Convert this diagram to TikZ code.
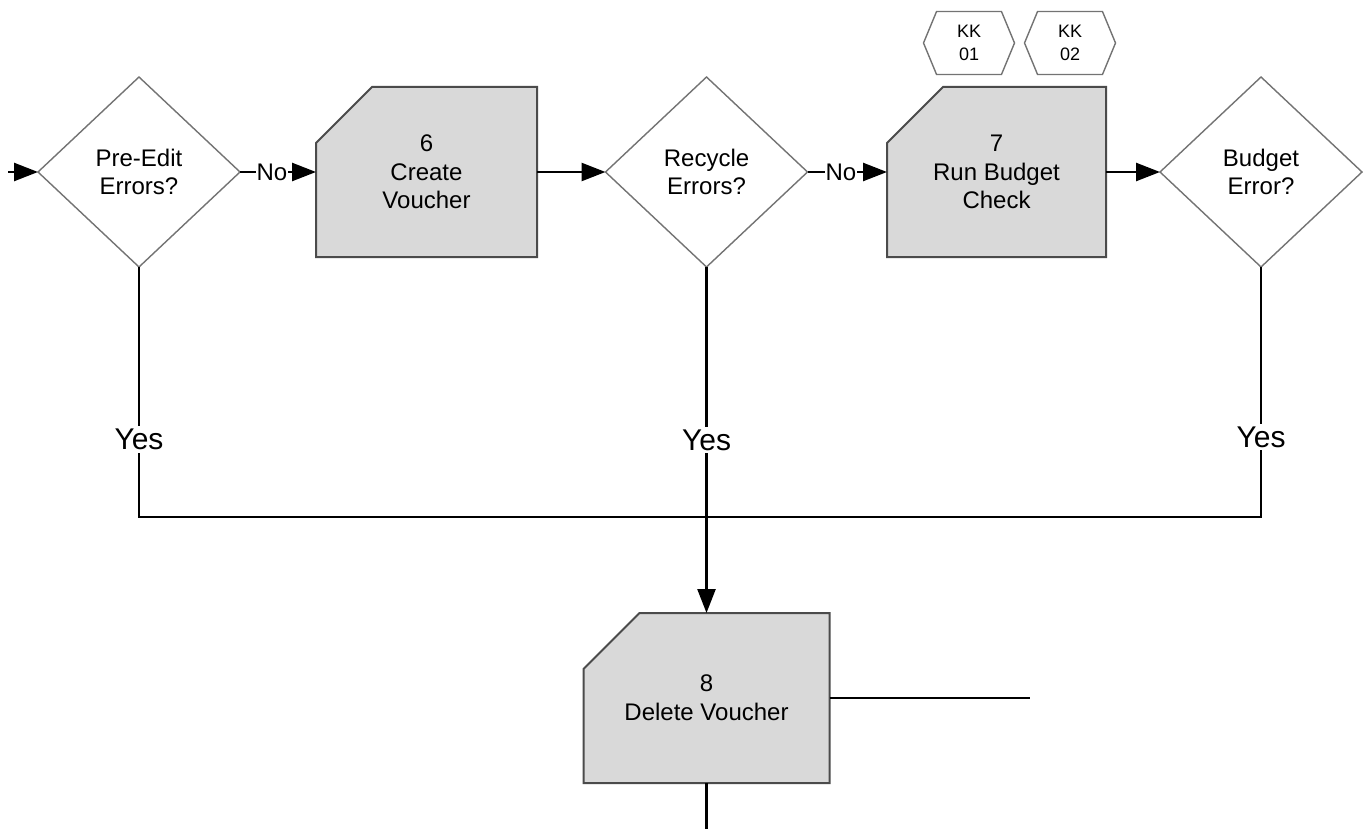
\documentclass[tikz,border=0pt]{standalone}
\usepackage{fontspec}
\setmainfont{Liberation Sans}
\usepackage{tikz}
\usetikzlibrary{arrows.meta,positioning,shapes.geometric,shapes.symbols,backgrounds}
\definecolor{BoxFill}{RGB}{217,217,217}
\definecolor{BoxEdge}{RGB}{75,75,75}
\definecolor{DiaEdge}{RGB}{115,115,115}

\begin{document}
\begin{tikzpicture}[x=0.5pt,y=-0.5pt,
    decision/.style={diamond, draw=DiaEdge, line width=0.7pt, fill=white, minimum width=101pt, minimum height=95pt, inner sep=0pt, outer sep=0pt, align=center, font=\fontsize{12}{14.3}\selectfont},
    procbox/.style={rectangle, minimum height=85pt, inner sep=0pt, outer sep=0pt, align=center, font=\fontsize{12}{14.3}\selectfont},
    kkhex/.style={signal, signal to=east and west, signal pointer angle=135, draw=DiaEdge, line width=0.7pt, minimum width=45.5pt, minimum height=31.5pt, inner sep=0pt, align=center, font=\fontsize{9}{11.5}\selectfont},
    flow/.style={-{Triangle[length=12pt,width=9pt]}, line width=1.25pt},
    link/.style={line width=1.25pt},
    nolbl/.style={fill=white, inner sep=0.5pt, font=\fontsize{12}{14}\selectfont},
    yeslbl/.style={fill=white, inner sep=1.5pt, font=\fontsize{15}{18}\selectfont}]
  \useasboundingbox (0,0) rectangle (1363,829);

  \node[decision] (d1) at (139,172) {Pre-Edit\\Errors?};
  \node[procbox, minimum width=110.5pt] (b6) at (426.5,172) {6\\Create\\Voucher};
  \node[decision] (d2) at (706.5,172) {Recycle\\Errors?};
  \node[procbox, minimum width=109.5pt] (b7) at (996.5,172) {7\\Run Budget\\Check};
  \node[decision] (d3) at (1261,172) {Budget\\Error?};
  \node[procbox, minimum width=123pt] (b8) at (706.5,698) {8\\Delete Voucher};

  \node[kkhex] (kk1) at (969,43) {KK\\01};
  \node[kkhex] (kk2) at (1070,43) {KK\\02};

  \begin{scope}[on background layer]
    \foreach \b in {b6,b7,b8}
      \draw[draw=BoxEdge, fill=BoxFill, line width=1pt]
        (\b.south west) -- ([yshift=-28pt]\b.north west) -- ([xshift=28pt]\b.north west)
        -- (\b.north east) -- (\b.south east) -- cycle;
  \end{scope}

  \coordinate (inlet) at (8,172);
  \coordinate (merge) at (706.5,517);
  \coordinate (outR) at (1030,698);
  \coordinate (outD) at (706.5,829);

  \draw[flow] (inlet) -- (d1.west);
  \draw[flow] (d1.east) -- node[nolbl, pos=0.42] {No} (b6.west);
  \draw[flow] (b6.east) -- (d2.west);
  \draw[flow] (d2.east) -- node[nolbl, pos=0.42] {No} (b7.west);
  \draw[flow] (b7.east) -- (d3.west);

  \draw[link] (d1.south) -- node[yeslbl, pos=0.69] {Yes} (d1.south |- merge) -- (merge);
  \draw[link] (d3.south) -- node[yeslbl, pos=0.68] {Yes} (d3.south |- merge) -- (merge);
  \draw[flow] (d2.south) -- node[yeslbl, pos=0.5] {Yes} (b8.north);

  \draw[link] (b8.east) -- (outR);
  \draw[link] (b8.south) -- (outD);
\end{tikzpicture}
\end{document}
